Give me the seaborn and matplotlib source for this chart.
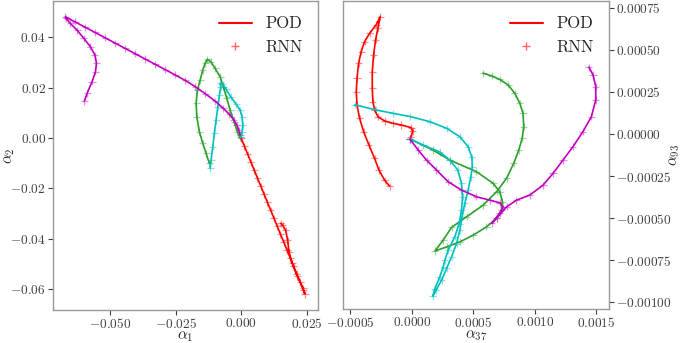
import numpy as np
import pandas as pd
import matplotlib
matplotlib.use("Agg")
import matplotlib.pyplot as plt
from matplotlib.lines import Line2D
import seaborn as sns

# ---------------- data ----------------
# Left panel: alpha_1 vs alpha_2
L_RED_X = [0.0, 0.00125, 0.0025, 0.00376, 0.00501, 0.00626, 0.00751, 0.00876, 0.01002, 0.01127,
           0.01252, 0.01377, 0.01502, 0.01628, 0.01753, 0.01878, 0.02003, 0.02128, 0.02254, 0.02379,
           0.02441, 0.02367, 0.02138, 0.01947, 0.01832, 0.01775, 0.01699, 0.01584, 0.01515]
L_RED_Y = [0.0, -0.00318, -0.00636, -0.00954, -0.01272, -0.0159, -0.01908, -0.02227, -0.02545, -0.02863,
           -0.03181, -0.03499, -0.03817, -0.04135, -0.04453, -0.04771, -0.05089, -0.05407, -0.05725, -0.06044,
           -0.06203, -0.05964, -0.05487, -0.0497, -0.04533, -0.04056, -0.03658, -0.03459, -0.03392]

L_GREEN_X = [-0.0121, -0.01336, -0.01462, -0.01592, -0.01691, -0.01718, -0.01668, -0.01565, -0.01462, -0.01374,
             -0.01286, -0.01157, -0.00992, -0.00802, -0.00676, -0.00546, -0.0042, -0.00267, -0.00141, -0.00038]
L_GREEN_Y = [-0.01006, -0.00608, -0.00211, 0.0025, 0.00847, 0.0138, 0.01908, 0.02306, 0.02704, 0.0297,
             0.03129, 0.03034, 0.02771, 0.02437, 0.0204, 0.01578, 0.01113, 0.00648, 0.0025, 0.00028]

L_CYAN_X = [-0.01183, -0.01145, -0.0108, -0.01019, -0.00954, -0.00889, -0.00828, -0.00775, -0.00802, -0.00699,
            -0.00573, -0.00393, -0.00191, -0.00038, 0.00038, 0.00065, 0.00038, -0.00011]
L_CYAN_Y = [-0.01205, -0.00875, -0.00346, 0.00187, 0.00716, 0.01245, 0.0171, 0.0204, 0.02175, 0.02147,
            0.01936, 0.01642, 0.01352, 0.01113, 0.00847, 0.00517, 0.0025, 0.00028]

L_MAG_X = [-0.0598, -0.0588, -0.0569, -0.0556, -0.0552, -0.0558, -0.0575, -0.0600, -0.0626, -0.0652,
           -0.0668, -0.0671, -0.06336, -0.05955, -0.05573, -0.05191, -0.0481, -0.04428, -0.04046, -0.03664,
           -0.03283, -0.02901, -0.02519, -0.02138, -0.01756, -0.01374, -0.00992, -0.00676, -0.00458, -0.00286,
           -0.00164, -0.00088, -0.00038]
L_MAG_Y = [0.01471, 0.01777, 0.02239, 0.02636, 0.0297, 0.0330, 0.0363, 0.0396, 0.0429, 0.0456,
           0.0476, 0.0482, 0.0462, 0.0441, 0.04199, 0.03988, 0.03777, 0.03566, 0.03356, 0.03145,
           0.02934, 0.02724, 0.02513, 0.02294, 0.02048, 0.01769, 0.01471, 0.01181, 0.00954, 0.00736,
           0.00517, 0.00318, 0.00119]

# Right panel: alpha_37 vs alpha_93
R_RED_X = [-0.000181, -0.000222, -0.000268, -0.000303, -0.000349, -0.000392, -0.000425, -0.000446, -0.000452, -0.000446,
           -0.000433, -0.000412, -0.000384, -0.000343, -0.00029, -0.000257, -0.000276, -0.000295, -0.000311, -0.000322,
           -0.000322, -0.000317, -0.000303, -0.000276, -0.000222, -0.000154, -0.0000869, -0.0000057, 0.0000081, -0.0000081]
R_RED_Y = [-0.00031, -0.000274, -0.000214, -0.000145, -0.0000655, 0.0000137, 0.0000934, 0.000173, 0.000252, 0.000332,
           0.000421, 0.00049, 0.000549, 0.000599, 0.000649, 0.000698, 0.000629, 0.00056, 0.00047, 0.000371,
           0.000272, 0.000192, 0.000143, 0.000103, 0.0000774, 0.0000637, 0.0000536, 0.0000375, 0.0000179, -0.0000179]

R_CYAN_X = [-0.000463, -0.000292, -0.000154, -0.0000162, 0.000146, 0.000282, 0.00039, 0.000457, 0.000487, 0.000491,
            0.000479, 0.000457, 0.00043, 0.000408, 0.00039, 0.000363, 0.000322, 0.000282, 0.000241, 0.000195,
            0.00017, 0.000187, 0.000227, 0.000254, 0.000268, 0.000295, 0.000349, 0.000384, 0.000403, 0.000412,
            0.000403, 0.000373, 0.000308, 0.000227, 0.0000917, -0.0000162]
R_CYAN_Y = [0.000173, 0.000143, 0.000123, 0.000104, 0.0000732, 0.0000339, -0.0000161, -0.0000756, -0.000137, -0.000196,
            -0.000256, -0.000333, -0.000412, -0.000492, -0.000571, -0.000651, -0.00073, -0.000799, -0.000869, -0.000929,
            -0.000964, -0.000918, -0.000849, -0.00079, -0.00075, -0.00069, -0.000611, -0.000532, -0.000452, -0.000373,
            -0.000293, -0.000214, -0.000155, -0.000107, -0.0000655, -0.0000298]

R_GREEN_X = [-0.0000162, 0.00017, 0.000308, 0.000525, 0.00066, 0.000714, 0.000736, 0.000728, 0.000688, 0.000606,
             0.000498, 0.00039, 0.000282, 0.000187, 0.000254, 0.000322, 0.000444, 0.000579, 0.000688, 0.000769,
             0.000828, 0.000869, 0.000897, 0.000909, 0.000903, 0.000877, 0.000836, 0.000782, 0.000714, 0.000649,
             0.000579]
R_GREEN_Y = [-0.0000298, -0.0000952, -0.000155, -0.000224, -0.000293, -0.000343, -0.000403, -0.000452, -0.000502, -0.000552,
             -0.000601, -0.000641, -0.000671, -0.000695, -0.000631, -0.000555, -0.000492, -0.000423, -0.000343, -0.000264,
             -0.000174, -0.0000952, -0.0000238, 0.0000434, 0.000123, 0.000183, 0.000242, 0.000292, 0.000324, 0.000345,
             0.000361]

R_MAG_X = [-0.0000162, 0.0000511, 0.000119, 0.0002, 0.000295, 0.000403, 0.000525, 0.000633, 0.000714, 0.000741,
           0.000714, 0.000649, 0.00069, 0.000769, 0.00085, 0.000958, 0.001066, 0.001147, 0.001228, 0.001309,
           0.00139, 0.001459, 0.001494, 0.001494, 0.001472, 0.001439]
R_MAG_Y = [-0.0000298, -0.0000952, -0.000155, -0.000214, -0.000284, -0.000333, -0.000373, -0.000393, -0.000409, -0.000434,
           -0.00047, -0.00053, -0.0005, -0.000433, -0.000393, -0.000363, -0.000304, -0.000234, -0.000155, -0.0000756,
           0.0000137, 0.000103, 0.000202, 0.000282, 0.000351, 0.000397]

COLORS = {"red": "#ff0000", "green": "#2ca02c", "cyan": "#00bfbf", "magenta": "#bf00bf"}
X_LABELS = [r"$\alpha_1$", r"$\alpha_{37}$"]
Y_LABELS = [r"$\alpha_2$", r"$\alpha_{93}$"]
LEGEND_LABELS = ["POD", "RNN"]

# ---------------- style ----------------
sns.set_style("white", {
    "axes.edgecolor": "0.6",
    "xtick.bottom": True,
    "ytick.left": True,
    "xtick.color": "0.25",
    "ytick.color": "0.25",
})
plt.rcParams["font.family"] = ["cmr10", "DejaVu Serif"]
plt.rcParams["mathtext.fontset"] = "cm"
plt.rcParams["axes.formatter.use_mathtext"] = True
plt.rcParams["axes.unicode_minus"] = True
plt.rcParams["axes.linewidth"] = 1.0
plt.rcParams["xtick.major.size"] = 3.5
plt.rcParams["ytick.major.size"] = 3.5
plt.rcParams["xtick.major.width"] = 0.8
plt.rcParams["ytick.major.width"] = 0.8

def build(traj):
    rows = []
    for name, xs, ys in traj:
        for i, (x, y) in enumerate(zip(xs, ys)):
            rows.append({"traj": name, "step": i, "x": x, "y": y})
    return pd.DataFrame(rows)

left = build([("red", L_RED_X, L_RED_Y), ("green", L_GREEN_X, L_GREEN_Y),
              ("cyan", L_CYAN_X, L_CYAN_Y), ("magenta", L_MAG_X, L_MAG_Y)])
right = build([("red", R_RED_X, R_RED_Y), ("green", R_GREEN_X, R_GREEN_Y),
               ("cyan", R_CYAN_X, R_CYAN_Y), ("magenta", R_MAG_X, R_MAG_Y)])

fig = plt.figure(figsize=(6.85, 3.43), dpi=100)
ax1 = fig.add_axes([0.077, 0.096, 0.387, 0.901])
ax2 = fig.add_axes([0.5007, 0.099, 0.388, 0.898])

for ax, df in [(ax1, left), (ax2, right)]:
    sns.lineplot(data=df, x="x", y="y", hue="traj", palette=COLORS, units="traj",
                 estimator=None, sort=False, lw=1.2, legend=False, ax=ax)
    sns.scatterplot(data=df, x="x", y="y", hue="traj", palette=COLORS, marker="+",
                    s=26, linewidth=0.9, alpha=0.45, legend=False, ax=ax)

ax1.set_xlim(-0.0719, 0.0293)
ax1.set_ylim(-0.0684, 0.0545)
ax1.set_xticks([-0.05, -0.025, 0.0, 0.025])
ax1.set_yticks([-0.06, -0.04, -0.02, 0.0, 0.02, 0.04])

ax2.set_xlim(-0.00056, 0.0016)
ax2.set_ylim(-0.00104, 0.00079)
ax2.set_xticks([-0.0005, 0.0, 0.0005, 0.001, 0.0015])
ax2.set_yticks([-0.001, -0.00075, -0.0005, -0.00025, 0.0, 0.00025, 0.0005, 0.00075])
ax2.yaxis.tick_right()
ax2.yaxis.set_label_position("right")
for ax in (ax1, ax2):
    ax.ticklabel_format(useOffset=False, style="plain")
    ax.tick_params(labelsize=9.6, pad=1.5)

for ax, xl, yl in [(ax1, X_LABELS[0], Y_LABELS[0]), (ax2, X_LABELS[1], Y_LABELS[1])]:
    ax.set_xlabel(xl, fontsize=11, labelpad=-1)
    ax.set_ylabel(yl, fontsize=11)
    handles = [Line2D([], [], color=COLORS["red"], lw=1.5),
               Line2D([], [], color=COLORS["red"], marker="+", ls="none", alpha=0.6, markersize=6)]
    ax.legend(handles, LEGEND_LABELS, loc="upper right", frameon=False, fontsize=12)

ax1.yaxis.set_label_coords(-0.135, 0.5)
ax2.yaxis.set_label_coords(1.222, 0.5)

fig.savefig("out.png", dpi=100)
